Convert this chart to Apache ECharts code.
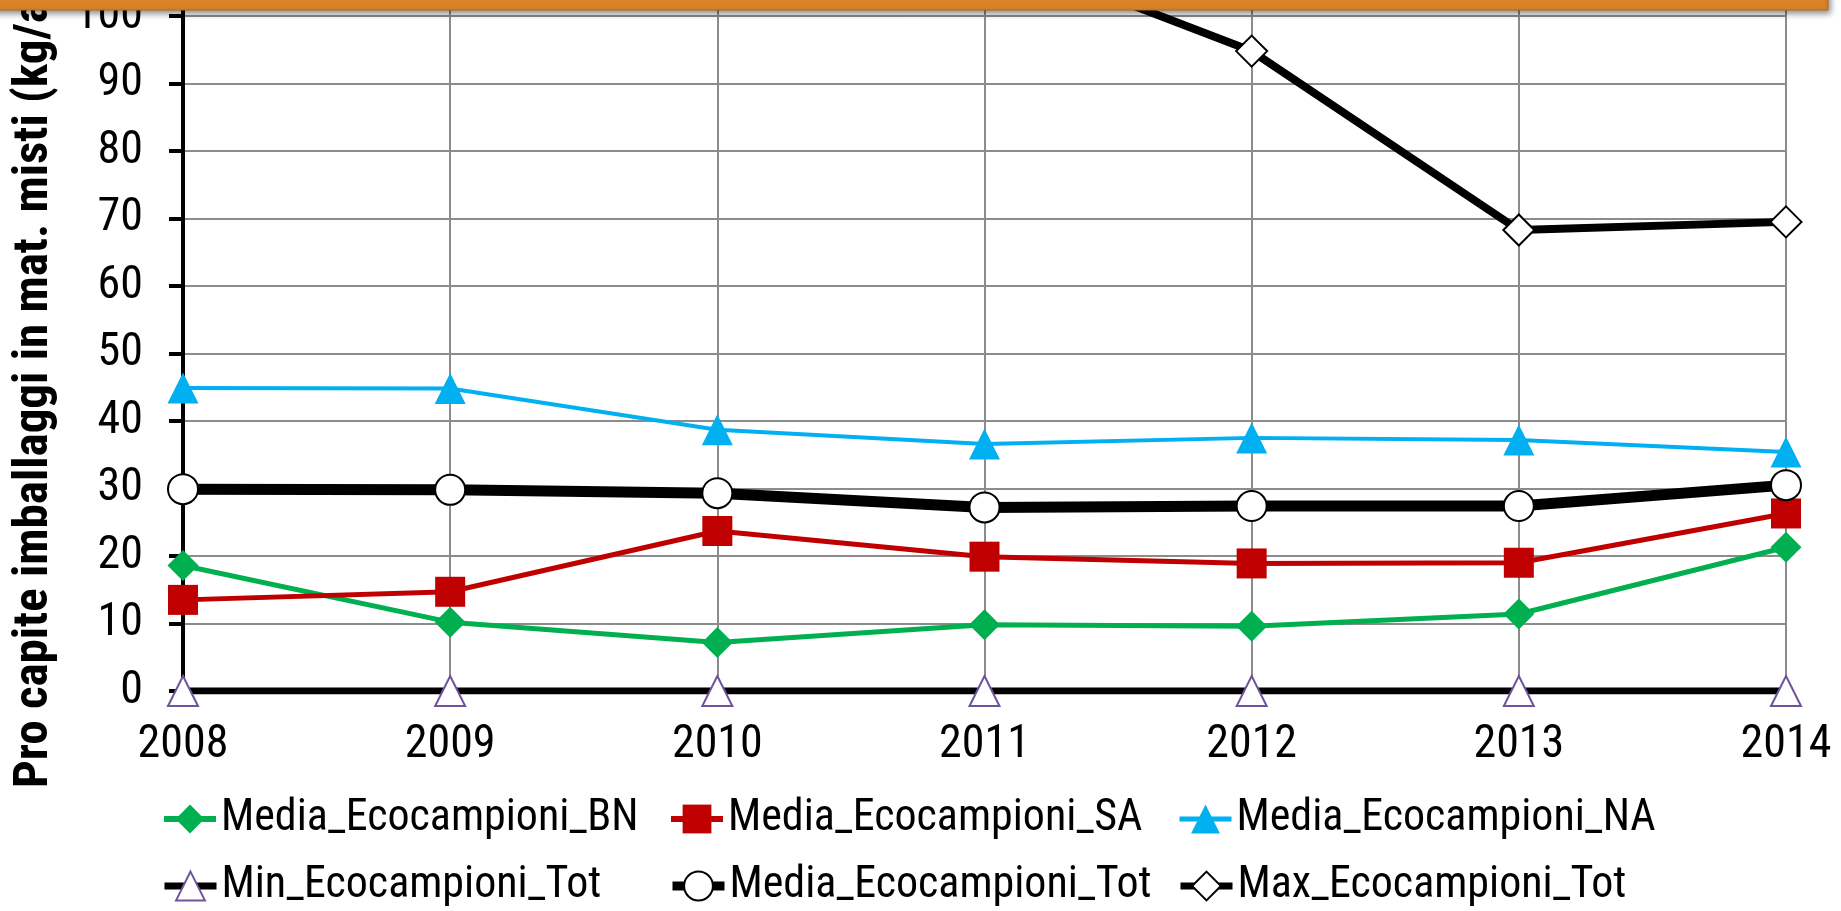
<!DOCTYPE html>
<html>
<head>
<meta charset="utf-8">
<title>Pro capite imballaggi in mat. misti</title>
<script src="https://cdn.jsdelivr.net/npm/echarts@6/dist/echarts.min.js"></script>
<style>
  html, body { margin: 0; padding: 0; background: #fff; overflow: hidden; }
  #main { width: 1841px; height: 911px; }
</style>
</head>
<body>
<div id="main"></div>
<script>
var anni = ['2008', '2009', '2010', '2011', '2012', '2013', '2014'];
var mediaBN = [18.6, 10.2, 7.2, 9.8, 9.6, 11.4, 21.3];
var mediaSA = [13.5, 14.7, 23.7, 19.9, 18.9, 19.0, 26.3];
var mediaNA = [44.9, 44.8, 38.7, 36.6, 37.5, 37.2, 35.4];
var minTot = [0, 0, 0, 0, 0, 0, 0];
var mediaTot = [29.9, 29.8, 29.3, 27.2, 27.4, 27.4, 30.5];
// i primi valori del massimo stanno sopra il bordo della figura (stimati)
var maxTot = [117, 114, 112, 110, 94.8, 68.3, 69.5];

(function () {
  var narrow = "'Roboto Condensed', 'Liberation Sans', sans-serif"
  //实例化echarts
  var myChart = echarts.init(document.getElementById('main'));

  function legendItem(name, left, top, lw) {
    return {
      data: [name],
      left: left,
      top: top,
      padding: 0,
      itemWidth: 52,
      itemHeight: 36,
      itemGap: 0,
      selectedMode: false,
      lineStyle: { width: lw },
      textStyle: {
        fontFamily: narrow,
        fontSize: 44,
        color: '#000'
      }
    }
  }

  var option;
  option = {
    animation: false,
    backgroundColor: '#fff',
    grid: {
      outerBoundsMode: 'none',
      containLabel: false,
      left: 183,
      right: 55,
      top: -119,
      bottom: 220
    },
    legend: [
      legendItem('Media_Ecocampioni_BN', 161, 797, 6),
      legendItem('Media_Ecocampioni_SA', 668, 797, 6),
      legendItem('Media_Ecocampioni_NA', 1177, 797, 5),
      legendItem('Min_Ecocampioni_Tot', 161, 864, 7),
      legendItem('Media_Ecocampioni_Tot', 668, 864, 9),
      legendItem('Max_Ecocampioni_Tot', 1177, 864, 7)
    ],
    xAxis: {
      type: 'category',
      boundaryGap: false,
      data: anni,
      axisLine: { lineStyle: { color: '#000', width: 4 } },
      axisTick: { show: false },
      axisLabel: {
        fontFamily: narrow,
        fontSize: 46,
        color: '#000',
        margin: 31
      },
      splitLine: {
        show: true,
        lineStyle: { color: '#8c8c8c', width: 2 }
      }
    },
    yAxis: {
      type: 'value',
      min: 0,
      max: 120,
      interval: 10,
      axisLine: { show: true, lineStyle: { color: '#000', width: 4 } },
      axisTick: { show: true, length: 14, lineStyle: { color: '#000', width: 4 } },
      axisLabel: {
        fontFamily: narrow,
        fontSize: 46,
        color: '#000',
        margin: 40
      },
      splitLine: {
        show: true,
        lineStyle: { color: '#8c8c8c', width: 2 }
      }
    },
    graphic: [
      {
        type: 'text',
        x: 35,
        y: 788,
        rotation: Math.PI / 2,
        style: {
          text: 'Pro capite imballaggi in mat. misti (kg/ab.)',
          fontFamily: narrow,
          fontWeight: 'bold',
          fontSize: 49,
          fill: '#000',
          textAlign: 'left',
          textVerticalAlign: 'middle'
        }
      },
      {
        type: 'rect',
        z: 100,
        shape: { x: -20, y: -20, width: 1848, height: 30 },
        style: {
          fill: '#DA8328',
          stroke: '#B8691C',
          lineWidth: 1,
          shadowBlur: 6,
          shadowOffsetX: 2,
          shadowOffsetY: 3,
          shadowColor: 'rgba(0, 0, 0, 0.45)'
        }
      }
    ],
    series: [
      {
        name: 'Media_Ecocampioni_BN',
        type: 'line',
        data: mediaBN,
        symbol: 'diamond',
        symbolSize: 31,
        lineStyle: { color: '#00B050', width: 5 },
        itemStyle: { color: '#00B050' }
      },
      {
        name: 'Media_Ecocampioni_SA',
        type: 'line',
        data: mediaSA,
        symbol: 'rect',
        symbolSize: 30,
        lineStyle: { color: '#C00000', width: 5 },
        itemStyle: { color: '#C00000' }
      },
      {
        name: 'Media_Ecocampioni_NA',
        type: 'line',
        data: mediaNA,
        symbol: 'triangle',
        symbolSize: 31,
        lineStyle: { color: '#00B0F0', width: 4 },
        itemStyle: { color: '#00B0F0' }
      },
      {
        name: 'Min_Ecocampioni_Tot',
        type: 'line',
        data: minTot,
        symbol: 'triangle',
        symbolSize: 30,
        lineStyle: { color: '#000', width: 7 },
        itemStyle: { color: '#fff', borderColor: '#6E549B', borderWidth: 2 }
      },
      {
        name: 'Media_Ecocampioni_Tot',
        type: 'line',
        data: mediaTot,
        symbol: 'circle',
        symbolSize: 30,
        lineStyle: { color: '#000', width: 11 },
        itemStyle: { color: '#fff', borderColor: '#000', borderWidth: 2 }
      },
      {
        name: 'Max_Ecocampioni_Tot',
        type: 'line',
        data: maxTot,
        symbol: 'diamond',
        symbolSize: 31,
        lineStyle: { color: '#000', width: 8 },
        itemStyle: { color: '#fff', borderColor: '#000', borderWidth: 2 }
      }
    ]
  };
  //实例化图表
  if (option && typeof option === 'object') {
    myChart.setOption(option);
  };
  window.addEventListener("resize", function () {
    myChart.resize();
  });
})();
</script>
</body>
</html>
